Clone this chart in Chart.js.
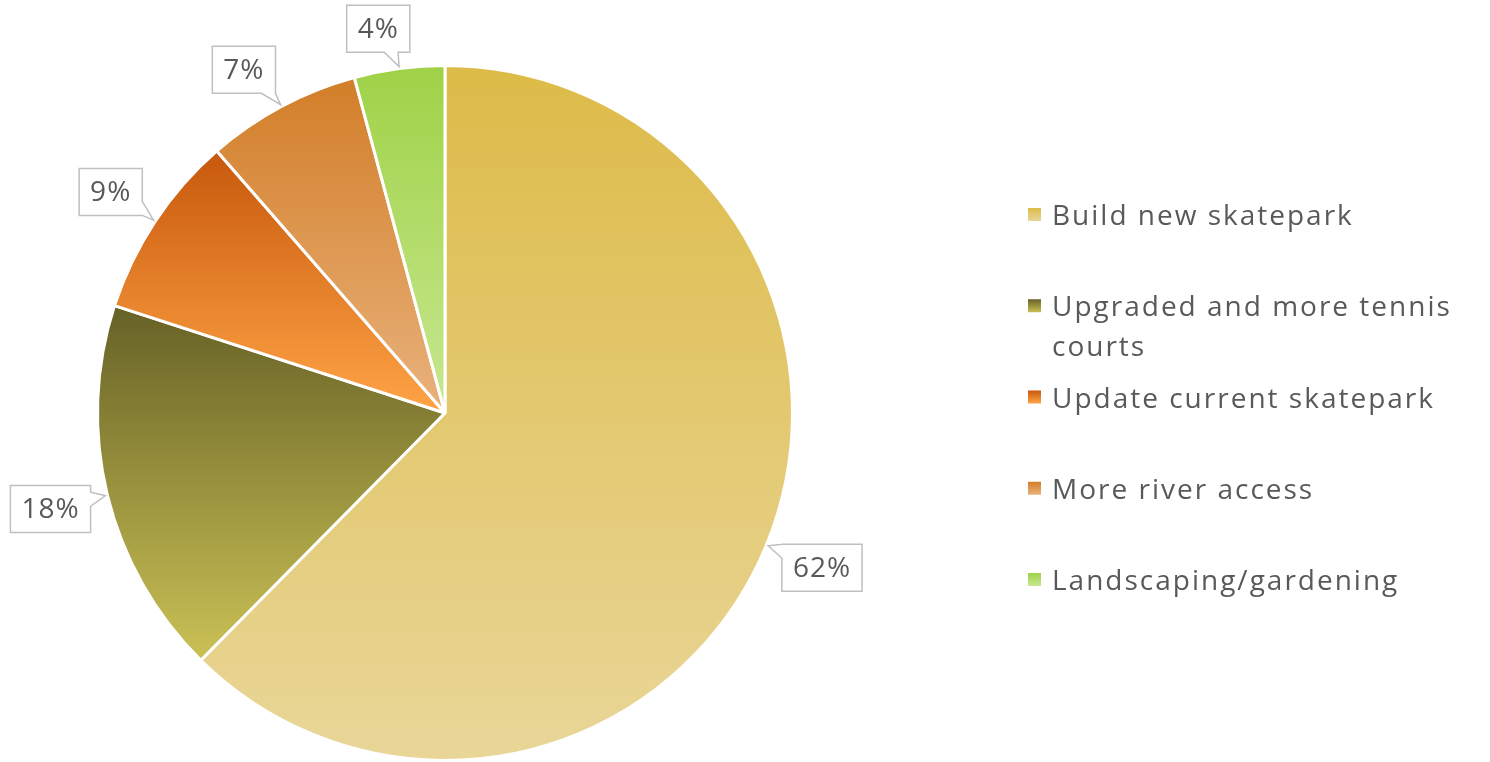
<!DOCTYPE html>
<html>
<head>
<meta charset="utf-8">
<script src="https://cdn.jsdelivr.net/npm/chart.js@4"></script>
<style>
  html, body { margin: 0; padding: 0; background: #ffffff; }
  #wrap { width: 1490px; height: 762px; }
</style>
</head>
<body>
<div id="wrap"><canvas id="pie" width="1490" height="762"></canvas></div>
<script>
var categories = ['Build new skatepark', 'Upgraded and more tennis courts', 'Update current skatepark', 'More river access', 'Landscaping/gardening'];
var shares = [62.4, 17.6, 8.6, 7.2, 4.2];
var topColors = ['#DDBB48', '#666126', '#C7580C', '#D27E28', '#9FD247'];
var bottomColors = ['#E9D698', '#CAC155', '#FFA446', '#E9B27C', '#C8E790'];

var FONT = '"Open Sans", "DejaVu Sans", sans-serif';
var TEXT_COLOR = '#595959';
var BORDER = 3;

function total() {
  return shares.reduce(function(a, b) { return a + b; }, 0);
}

function pctLabel(i) {
  return Math.round(shares[i] / total() * 100) + '%';
}

// vertical extent of a slice, so each slice gets its own top->bottom gradient
function sliceBounds(i, cx, cy, r) {
  var sum = total(), before = 0;
  for (var k = 0; k < i; k++) before += shares[k];
  var start = -Math.PI / 2 + 2 * Math.PI * before / sum;
  var end = start + 2 * Math.PI * shares[i] / sum;
  var ys = [cy, cy + r * Math.sin(start), cy + r * Math.sin(end)];
  if (start <= -Math.PI / 2 + 1e-6 || end >= 3 * Math.PI / 2 - 1e-6) ys.push(cy - r);
  if (start <= Math.PI / 2 && end >= Math.PI / 2) ys.push(cy + r);
  return [Math.min.apply(null, ys), Math.max.apply(null, ys)];
}

function sliceGradient(context) {
  var chart = context.chart;
  var area = chart.chartArea;
  var i = context.dataIndex;
  if (!area || i === undefined) return topColors[i || 0];
  var cx = (area.left + area.right) / 2, cy = (area.top + area.bottom) / 2;
  var r = (Math.min(area.width, area.height) - BORDER) / 2;
  var b = sliceBounds(i, cx, cy, r);
  var g = chart.ctx.createLinearGradient(0, b[0], 0, b[1]);
  g.addColorStop(0, topColors[i]);
  g.addColorStop(1, bottomColors[i]);
  return g;
}

function drawCallout(ctx, x0, y0, x1, y1, tipX, tipY) {
  var cx = (x0 + x1) / 2, cy = (y0 + y1) / 2;
  var dx = tipX - cx, dy = tipY - cy;
  var tX = Math.abs(dx) > 0 ? ((x1 - x0) / 2) / Math.abs(dx) : Infinity;
  var tY = Math.abs(dy) > 0 ? ((y1 - y0) / 2) / Math.abs(dy) : Infinity;
  var t = Math.min(tX, tY), half = 7;
  var px = cx + dx * t, py = cy + dy * t;
  var edge;
  if (tX < tY) edge = dx > 0 ? 'right' : 'left';
  else edge = dy > 0 ? 'bottom' : 'top';
  px = Math.max(x0 + half, Math.min(x1 - half, px));
  py = Math.max(y0 + half, Math.min(y1 - half, py));

  ctx.beginPath();
  ctx.moveTo(x0, y0);
  if (edge === 'top') { ctx.lineTo(px - half, y0); ctx.lineTo(tipX, tipY); ctx.lineTo(px + half, y0); }
  ctx.lineTo(x1, y0);
  if (edge === 'right') { ctx.lineTo(x1, py - half); ctx.lineTo(tipX, tipY); ctx.lineTo(x1, py + half); }
  ctx.lineTo(x1, y1);
  if (edge === 'bottom') { ctx.lineTo(px + half, y1); ctx.lineTo(tipX, tipY); ctx.lineTo(px - half, y1); }
  ctx.lineTo(x0, y1);
  if (edge === 'left') { ctx.lineTo(x0, py + half); ctx.lineTo(tipX, tipY); ctx.lineTo(x0, py - half); }
  ctx.closePath();
  ctx.fillStyle = '#ffffff';
  ctx.fill();
  ctx.lineWidth = 1.5;
  ctx.strokeStyle = '#BFBFBF';
  ctx.stroke();
}

var calloutPlugin = {
  id: 'callouts',
  afterDatasetsDraw: function(chart) {
    var ctx = chart.ctx;
    var meta = chart.getDatasetMeta(0);
    ctx.save();
    ctx.font = '28px ' + FONT;
    ctx.letterSpacing = '1px';
    meta.data.forEach(function(arc, i) {
      // Excel nudges the small top slices' labels a little anticlockwise
      var mid = (arc.startAngle + arc.endAngle) / 2 - (i >= 3 ? 0.04 : 0);
      var ux = Math.cos(mid), uy = Math.sin(mid);
      var R = arc.outerRadius;
      var text = pctLabel(i);
      var w = ctx.measureText(text).width + 22, h = 47;
      var proj = (w / 2) * Math.abs(ux) + (h / 2) * Math.abs(uy);
      var d = R + 14 + proj;
      var bx = arc.x + ux * d, by = arc.y + uy * d;
      var tmid = (arc.startAngle + arc.endAngle) / 2;
      var tipX = arc.x + Math.cos(tmid) * (R + 2), tipY = arc.y + Math.sin(tmid) * (R + 2);
      drawCallout(ctx, bx - w / 2, by - h / 2, bx + w / 2, by + h / 2, tipX, tipY);
      ctx.fillStyle = TEXT_COLOR;
      ctx.textAlign = 'center';
      ctx.textBaseline = 'middle';
      ctx.fillText(text, bx, by + 1);
    });
    ctx.restore();
  }
};

function wrapText(ctx, text, maxWidth) {
  var words = text.split(' '), lines = [], line = '';
  words.forEach(function(w) {
    var test = line ? line + ' ' + w : w;
    if (ctx.measureText(test).width > maxWidth && line) {
      lines.push(line);
      line = w;
    } else {
      line = test;
    }
  });
  if (line) lines.push(line);
  return lines;
}

var legendPlugin = {
  id: 'sideLegend',
  afterDraw: function(chart) {
    var ctx = chart.ctx;
    var textX = 1052, markX = 1028, mark = 13;
    var firstBase = 225, step = 91.25, lineH = 40;
    ctx.save();
    ctx.font = '28px ' + FONT;
    ctx.letterSpacing = '2px';
    ctx.textAlign = 'left';
    ctx.textBaseline = 'alphabetic';
    categories.forEach(function(label, i) {
      var base = firstBase + i * step;
      var my = base - 17;
      var g = ctx.createLinearGradient(0, my, 0, my + mark);
      g.addColorStop(0, topColors[i]);
      g.addColorStop(1, bottomColors[i]);
      ctx.fillStyle = g;
      ctx.fillRect(markX, my, mark, mark);
      ctx.fillStyle = TEXT_COLOR;
      wrapText(ctx, label, 1484 - textX).forEach(function(line, k) {
        ctx.fillText(line, textX, base + k * lineH);
      });
    });
    ctx.restore();
  }
};

var chart = new Chart(document.getElementById('pie').getContext('2d'), {
  type: 'pie',
  data: {
    labels: categories,
    datasets: [{
      data: shares,
      backgroundColor: sliceGradient,
      borderColor: '#ffffff',
      borderWidth: BORDER
    }]
  },
  options: {
    responsive: false,
    animation: false,
    layout: {
      padding: { left: 96, right: 696, top: 64, bottom: 0 }
    },
    plugins: {
      legend: { display: false },
      tooltip: { enabled: false }
    }
  },
  plugins: [calloutPlugin, legendPlugin]
});
</script>
</body>
</html>
